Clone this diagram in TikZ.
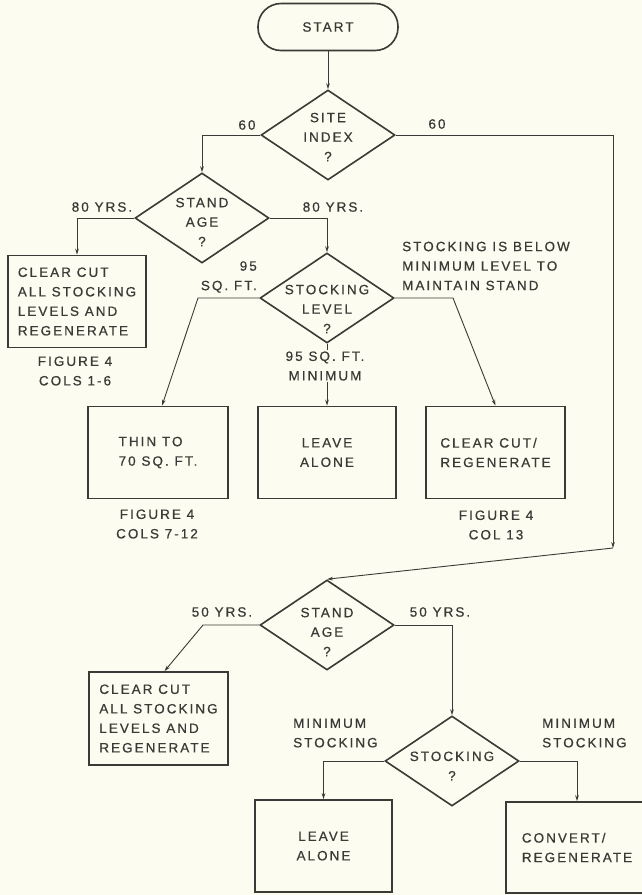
\documentclass[tikz,border=0pt]{standalone}
\usepackage{fontspec}
\setmainfont{Liberation Sans}[LetterSpace=15,FakeBold=0.6]
\usetikzlibrary{arrows.meta,positioning,shapes.geometric,calc}
\definecolor{inkc}{RGB}{58,58,54}
\definecolor{paperc}{RGB}{253,252,240}
\newcommand\flowfont{\fontsize{13.5}{19.5}\selectfont}

\tikzset{
  box/.style={draw=inkc,line width=1.7pt,minimum height=92pt,inner sep=0pt,
              font=\flowfont,text=inkc},
  dia/.style={draw=inkc,line width=1.6pt,diamond,minimum width=134pt,
              minimum height=90pt,inner sep=0pt},
  lbl/.style={text=inkc,font=\flowfont,align=center,inner sep=1pt},
  flow/.style={draw=inkc,line width=0.9pt,-{Stealth[length=6pt,width=3.6pt]}},
}

\begin{document}
\begin{tikzpicture}[x=1pt,y=-1pt]
\fill[paperc] (0,0) rectangle (642,895);
\useasboundingbox (0,0) rectangle (642,895);

% start and site index
\node[draw=inkc,line width=1.6pt,rounded corners=23pt,minimum width=140pt,
      minimum height=47pt,lbl] (start) at (328,27) {START};
\node[dia] (si) at (328,135) {};
\node[lbl] (sitxt) at (328,137) {SITE\\INDEX\\?};

% older stands
\node[dia] (sa1) at (202,218) {};
\node[lbl] (sa1txt) at (202,222) {STAND\\AGE\\?};
\node[box,minimum width=138pt,align=left] (cc1) at (77,301.5)
  {CLEAR CUT\\ALL STOCKING\\LEVELS AND\\REGENERATE};
\node[lbl] (fig1) at (75,371) {FIGURE 4\\COLS 1-6};

\node[dia] (sl) at (327,298) {};
\node[lbl] (sltxt) at (327,309) {STOCKING\\LEVEL\\?};

\node[box,minimum width=140pt,align=left] (thin) at (158,452.5)
  {THIN TO\\70 SQ. FT.};
\node[box,minimum width=138pt,align=center] (leave1) at (327,452.5)
  {LEAVE\\ALONE};
\node[box,minimum width=139pt,align=left] (cc2) at (495.5,452.5)
  {CLEAR CUT/\\REGENERATE};
\node[lbl] (fig2) at (157,524) {FIGURE 4\\COLS 7-12};
\node[lbl] (fig3) at (496,525) {FIGURE 4\\COL 13};

% younger stands
\node[dia] (sa2) at (327,625) {};
\node[lbl] (sa2txt) at (327,632) {STAND\\AGE\\?};
\node[box,minimum width=139pt,minimum height=93pt,align=left] (cc3) at (158.5,718.5)
  {CLEAR CUT\\ALL STOCKING\\LEVELS AND\\REGENERATE};
\node[dia] (st) at (452,761) {};
\node[lbl] (sttxt) at (452,766) {STOCKING\\?};
\node[box,minimum width=137pt,align=center] (leave2) at (323.5,846)
  {LEAVE\\ALONE};
\node[box,minimum width=142pt,minimum height=91pt,align=left] (conv) at (577,847.5)
  {CONVERT/\\REGENERATE};

\coordinate (k1) at (198,298);
\coordinate (k2) at (453,298);
\coordinate (rt) at (613,548);
\coordinate (k3) at (203,625);

% connectors
\draw[flow] (start) -- (si);
\draw[flow] (si.west) -| (sa1.north);
\draw[flow] (si.east) -| (rt);
\draw[flow] (sa1.west) -| (cc1.north);
\draw[flow] (sa1.east) -| (sl.north);
\draw[flow] (sl.west) -- (k1) -- ([xshift=4pt]thin.north);
\draw[flow] (sl.south) -- (leave1.north);
\draw[flow] (sl.east) -- (k2) -- (cc2.north);
\draw[flow] (rt) -- (sa2.north);
\draw[flow] (sa2.west) -- (k3) -- ([xshift=6pt]cc3.north);
\draw[flow] (sa2.east) -| (st.north);
\draw[flow] (st.west) -| (leave2.north);
\draw[flow] (st.east) -| (conv.north);

% branch labels
\node[lbl] (l60a) at (247,125) {60};
\node[lbl] (l60b) at (437,124) {60};
\node[lbl] (l80a) at (102,207) {80 YRS.};
\node[lbl] (l80b) at (333,207) {80 YRS.};
\node[lbl,align=right,anchor=east] (l95a) at (258,277) {95\\SQ. FT.};
\node[lbl,fill=paperc] (l95b) at (325,366) {95 SQ. FT.\\MINIMUM};
\node[lbl,align=left,anchor=west] (lbelow) at (401,266)
  {STOCKING IS BELOW\\MINIMUM LEVEL TO\\MAINTAIN STAND};
\node[lbl] (l50a) at (222,612) {50 YRS.};
\node[lbl] (l50b) at (440,612) {50 YRS.};
\node[lbl,align=left,anchor=west] (lmina) at (292,733) {MINIMUM\\STOCKING};
\node[lbl,align=left,anchor=west] (lminb) at (541,733) {MINIMUM\\STOCKING};
\end{tikzpicture}
\end{document}
